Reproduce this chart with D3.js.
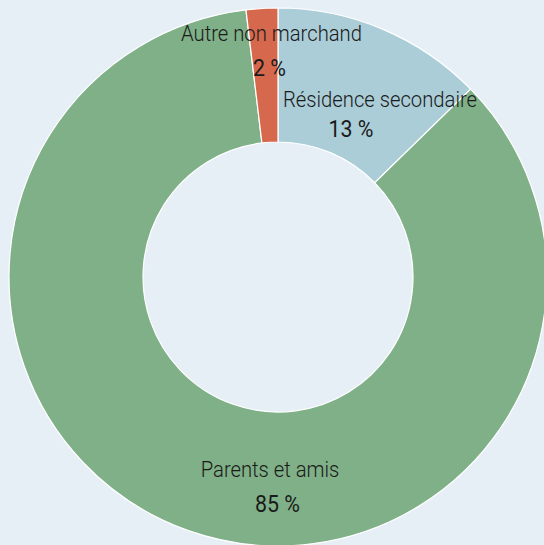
<!DOCTYPE html>
<html>
<head>
<meta charset="utf-8">
<script src="https://cdn.jsdelivr.net/npm/d3@7"></script>
<style>
  body { margin: 0; background: #e7eff6; }
  svg { display: block; }
</style>
</head>
<body>
<div id="chart"></div>
<script>
// data
const categories = ['Résidence secondaire', 'Parents et amis', 'Autre non marchand'];
const shares = [12.7, 85.4, 1.9];
const shareLabels = ['13 %', '85 %', '2 %'];
const colors = ['#abcdd8', '#7fb087', '#d6694d'];

const width = 544, height = 545;
const cx = 278, cy = 277;
const outerR = 269, innerR = 135;

// label placement, relative to the centre of the donut
const labelPos = [
   { name: [102, -170], value: [73, -140] },
   { name: [-8, 200], value: [-0.5, 235] },
   { name: [-6.5, -236], value: [-8.5, -201] }
];

const data = categories.map((c, i) => ({ cat: c, share: shares[i], label: shareLabels[i], color: colors[i], pos: labelPos[i] }));

const svg = d3.select('#chart').append('svg')
   .attr('width', width)
   .attr('height', height);

svg.append('rect')
   .attr('width', width)
   .attr('height', height)
   .attr('fill', '#e7eff6');

const g = svg.append('g')
   .attr('transform', `translate(${cx}, ${cy})`);

const pie = d3.pie()
   .sort(null)
   .value(d => d.share);

const arc = d3.arc()
   .innerRadius(innerR)
   .outerRadius(outerR);

g.selectAll('path')
   .data(pie(data))
   .enter()
   .append('path')
      .attr('d', arc)
      .attr('fill', d => d.data.color)
      .attr('stroke', '#ffffff')
      .attr('stroke-width', 1.2);

const labels = g.selectAll('.label')
   .data(data)
   .enter()
   .append('g')
      .attr('class', 'label')
      .attr('font-family', 'Roboto, sans-serif')
      .attr('text-anchor', 'middle')
      .attr('fill', '#1a1a1a');

// the source font is narrower than Roboto, so squeeze it a little
labels.append('text')
   .attr('transform', d => `translate(${d.pos.name[0]}, ${d.pos.name[1]}) scale(0.9, 1)`)
   .attr('font-size', '22.5px')
   .attr('font-weight', 300)
   .text(d => d.cat);

labels.append('text')
   .attr('transform', d => `translate(${d.pos.value[0]}, ${d.pos.value[1]}) scale(0.89, 1)`)
   .attr('font-size', '24px')
   .attr('font-weight', 400)
   .text(d => d.label);
</script>
</body>
</html>
